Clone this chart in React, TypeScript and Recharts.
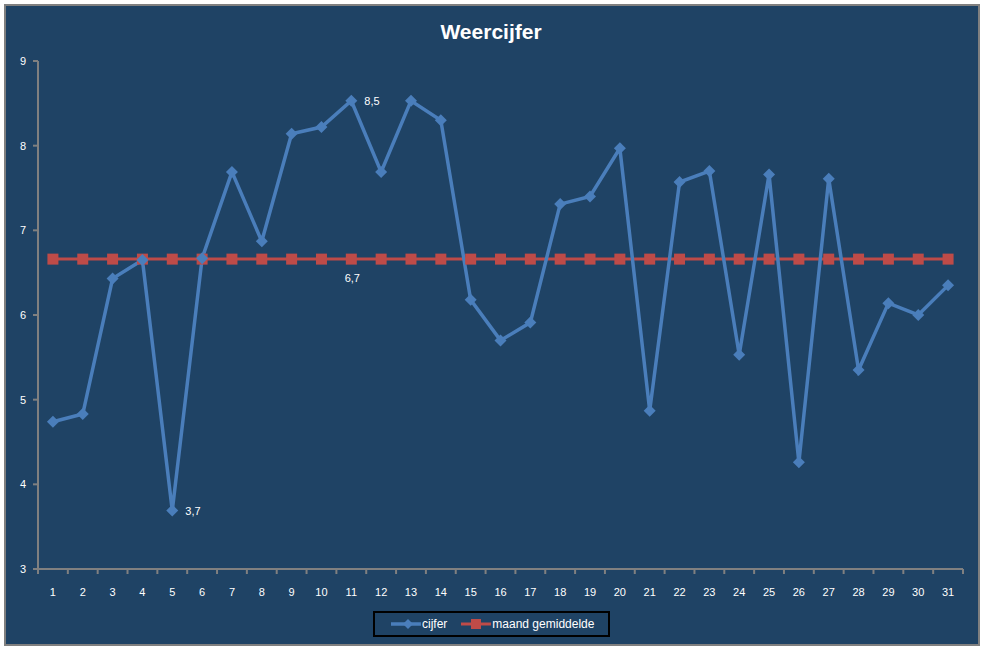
import { LineChart, Line, XAxis, YAxis, LabelList } from 'recharts';

const days = Array.from({ length: 31 }, (_, i) => String(i + 1));
const cijfer = [
  4.74, 4.83, 6.43, 6.65, 3.69, 6.67, 7.69, 6.87, 8.14, 8.22, 8.53, 7.69, 8.53, 8.3, 6.18, 5.7,
  5.91, 7.31, 7.4, 7.97, 4.87, 7.57, 7.7, 5.53, 7.66, 4.26, 7.61, 5.35, 6.14, 6.0, 6.35,
];
const gemiddelde = 6.66;
const yTicks = [3, 4, 5, 6, 7, 8, 9];

const BG = '#1F4365';
const BLUE = '#4A7EBB';
const RED = '#BE4B48';
const GRID = '#808080';
const FONT = '"Liberation Sans", Arial, sans-serif';

const chartData = days.map((d, i) => ({
  day: d,
  cijfer: cijfer[i],
  gem: gemiddelde,
}));

const maxIdx = cijfer.indexOf(Math.max(...cijfer));
const minIdx = cijfer.indexOf(Math.min(...cijfer));
const fmt = (v: number) => v.toFixed(1).replace('.', ',');

const HALF = (963 - 38) / 31 / 2;

function XTick(props: any) {
  const { x, y, payload, index } = props;
  return (
    <g>
      <line x1={x - HALF} x2={x - HALF} y1={y} y2={y + 5} stroke={GRID} strokeWidth={2} />
      {index === days.length - 1 && (
        <line x1={x + HALF} x2={x + HALF} y1={y} y2={y + 5} stroke={GRID} strokeWidth={2} />
      )}
      <text x={x} y={y + 27} textAnchor="middle" fill="#fff" fontSize={11} fontFamily={FONT}>
        {payload.value}
      </text>
    </g>
  );
}

function Diamond(props: any) {
  const { cx, cy, index } = props;
  const r = 6;
  return (
    <path
      key={`d-${index}`}
      d={`M${cx},${cy - r}L${cx + r},${cy}L${cx},${cy + r}L${cx - r},${cy}Z`}
      fill={BLUE}
    />
  );
}

function Square(props: any) {
  const { cx, cy, index } = props;
  const r = 5.5;
  return <rect key={`s-${index}`} x={cx - r} y={cy - r} width={r * 2} height={r * 2} fill={RED} />;
}

function CijferLabel(props: any) {
  const { x, y, value, index } = props;
  if (index !== maxIdx && index !== minIdx) return null;
  return (
    <text x={x + 13} y={y + 4} fill="#fff" fontSize={11} fontFamily={FONT}>
      {fmt(value)}
    </text>
  );
}

function GemLabel(props: any) {
  const { x, y, value, index } = props;
  if (index !== maxIdx) return null;
  return (
    <text x={x + 1} y={y + 23} textAnchor="middle" fill="#fff" fontSize={11} fontFamily={FONT}>
      {fmt(value)}
    </text>
  );
}

export default function App() {
  return (
    <div style={{ position: 'absolute', left: 0, top: 0, width: 987, height: 648, background: '#fff' }}>
      <div
        style={{
          position: 'absolute',
          left: 4,
          top: 4,
          width: 976,
          height: 642,
          boxSizing: 'border-box',
          border: `2px solid ${GRID}`,
          background: BG,
        }}
      />
      <div
        style={{
          position: 'absolute',
          left: 0,
          top: 22,
          width: 987,
          textAlign: 'center',
          color: '#fff',
          fontFamily: FONT,
          fontWeight: 'bold',
          fontSize: 21,
          lineHeight: '20px',
        }}
      >
        <span style={{ marginLeft: -5 }}>Weercijfer</span>
      </div>
      <div style={{ position: 'absolute', left: 0, top: 0 }}>
        <LineChart width={987} height={648} data={chartData} margin={{ top: 61, right: 24, bottom: 49, left: 0 }}>
          <XAxis
            dataKey="day"
            padding={{ left: HALF, right: HALF }}
            axisLine={{ stroke: GRID, strokeWidth: 2 }}
            tickLine={false}
            tickSize={0}
            tickMargin={0}
            height={30}
            interval={0}
            tick={<XTick />}
          />
          <YAxis
            domain={[3, 9]}
            ticks={yTicks}
            width={38}
            axisLine={{ stroke: GRID, strokeWidth: 2 }}
            tickLine={{ stroke: GRID, strokeWidth: 2 }}
            tickSize={5}
            tickMargin={7}
            tick={{ fill: '#fff', fontSize: 11, fontFamily: FONT }}
          />
          <Line
            dataKey="gem"
            stroke={RED}
            strokeWidth={3}
            dot={Square}
            activeDot={false}
            isAnimationActive={false}
          >
            <LabelList dataKey="gem" content={GemLabel} />
          </Line>
          <Line
            dataKey="cijfer"
            stroke={BLUE}
            strokeWidth={3.5}
            strokeLinejoin="miter"
            dot={Diamond}
            activeDot={false}
            isAnimationActive={false}
          >
            <LabelList dataKey="cijfer" content={CijferLabel} />
          </Line>
        </LineChart>
      </div>
      <div
        style={{
          position: 'absolute',
          left: 373,
          top: 611,
          width: 237,
          height: 26,
          boxSizing: 'border-box',
          border: '2px solid #000',
          display: 'flex',
          alignItems: 'center',
          color: '#fff',
          fontFamily: FONT,
          fontSize: 12,
        }}
      >
        <svg width={30} height={12} style={{ marginLeft: 16 }}>
          <line x1={0} x2={30} y1={6} y2={6} stroke={BLUE} strokeWidth={3.5} />
          <path d="M17,1L22,6L17,11L12,6Z" fill={BLUE} />
        </svg>
        <span style={{ marginLeft: 1 }}>cijfer</span>
        <svg width={30} height={12} style={{ marginLeft: 14 }}>
          <line x1={0} x2={30} y1={6} y2={6} stroke={RED} strokeWidth={3} />
          <rect x={10} y={1} width={10} height={10} fill={RED} />
        </svg>
        <span style={{ marginLeft: 1 }}>maand gemiddelde</span>
      </div>
    </div>
  );
}
